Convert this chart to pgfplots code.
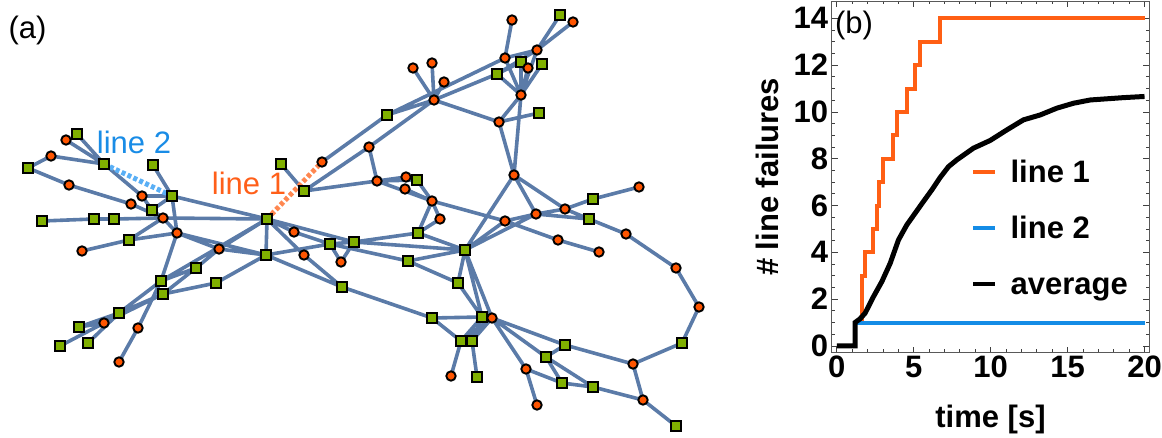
\documentclass[border=0pt]{standalone}
\usepackage{fontspec}
\setmainfont{Liberation Sans}
\usepackage{pgfplots}
\usepackage{pgfplotstable}
\pgfplotsset{compat=1.18}

\definecolor{edgec}{RGB}{62,100,153}
\definecolor{sqfill}{RGB}{128,176,0}
\definecolor{cifill}{RGB}{255,85,0}
\definecolor{lineone}{RGB}{255,95,25}
\definecolor{lineonedash}{RGB}{255,135,80}
\definecolor{linetwo}{RGB}{25,140,230}
\definecolor{linetwodash}{RGB}{90,175,245}
\definecolor{plotorange}{RGB}{255,95,20}
\definecolor{plotblue}{RGB}{20,140,230}
\newcommand{\bigrm}{\fontsize{31}{36}\selectfont}
\newcommand{\bigbf}{\fontsize{31}{36}\selectfont\bfseries}

% squares (green nodes), pixel coordinates
\pgfplotstableread{
x y
77 134
28 168
104 164
153 165
172 196
152 210
42 221
94 219
114 219
129 240
196 268
161 281
163 294
216 283
119 313
79 327
60 346
88 343
267 219
281 164
304 191
266 255
330 244
354 242
342 287
387 115
417 180
418 233
465 250
408 261
458 283
560 15
521 62
542 64
497 74
539 113
593 199
589 219
682 343
676 426
593 387
562 383
546 357
565 345
432 318
482 317
461 341
472 341
477 377
}\squares

% circles (orange nodes)
\pgfplotstableread{
x y
66 140
51 156
69 185
142 196
131 204
163 218
177 233
82 251
219 249
104 323
138 328
119 362
322 162
294 232
304 255
341 262
369 147
377 181
406 177
405 189
432 201
440 219
413 68
432 63
444 82
434 100
512 20
573 22
537 50
505 58
528 68
521 95
499 122
514 175
505 221
536 214
565 209
639 187
626 234
558 240
599 252
676 268
699 307
633 364
643 400
526 369
537 405
492 318
451 376
}\circles

% edges as segment pairs separated by nan
\pgfplotstableread{
x y
66 140
104 164
nan nan
77 134
104 164
nan nan
51 156
28 168
nan nan
51 156
104 164
nan nan
28 168
69 185
nan nan
69 185
131 204
nan nan
104 164
142 196
nan nan
153 165
172 196
nan nan
142 196
172 196
nan nan
142 196
152 210
nan nan
152 210
172 196
nan nan
131 204
163 218
nan nan
152 210
163 218
nan nan
172 196
267 219
nan nan
172 196
177 233
nan nan
42 221
94 219
nan nan
94 219
114 219
nan nan
114 219
163 218
nan nan
163 218
267 219
nan nan
163 218
177 233
nan nan
163 218
129 240
nan nan
129 240
177 233
nan nan
82 251
129 240
nan nan
177 233
219 249
nan nan
219 249
266 255
nan nan
177 233
266 255
nan nan
219 249
267 219
nan nan
219 249
196 268
nan nan
196 268
163 294
nan nan
267 219
161 281
nan nan
196 268
161 281
nan nan
163 294
216 283
nan nan
216 283
266 255
nan nan
177 233
161 281
nan nan
161 281
138 328
nan nan
138 328
119 362
nan nan
161 281
119 313
nan nan
163 294
119 313
nan nan
163 294
104 323
nan nan
104 323
79 327
nan nan
104 323
60 346
nan nan
119 313
88 343
nan nan
79 327
119 313
nan nan
281 164
304 191
nan nan
304 191
369 147
nan nan
369 147
434 100
nan nan
304 191
377 181
nan nan
322 162
387 115
nan nan
387 115
434 100
nan nan
387 115
505 58
nan nan
434 100
497 74
nan nan
413 68
434 100
nan nan
432 63
434 100
nan nan
444 82
434 100
nan nan
434 100
499 122
nan nan
499 122
521 95
nan nan
499 122
539 113
nan nan
499 122
514 175
nan nan
521 95
514 175
nan nan
521 95
497 74
nan nan
521 95
505 58
nan nan
521 95
521 62
nan nan
521 95
528 68
nan nan
521 95
537 50
nan nan
521 95
542 64
nan nan
512 20
505 58
nan nan
560 15
537 50
nan nan
573 22
537 50
nan nan
505 58
537 50
nan nan
497 74
521 62
nan nan
497 74
537 50
nan nan
369 147
377 181
nan nan
377 181
406 177
nan nan
377 181
417 180
nan nan
377 181
432 201
nan nan
406 177
417 180
nan nan
417 180
432 201
nan nan
405 189
432 201
nan nan
432 201
440 219
nan nan
432 201
418 233
nan nan
440 219
418 233
nan nan
432 201
505 221
nan nan
418 233
465 250
nan nan
267 219
266 255
nan nan
267 219
294 232
nan nan
294 232
330 244
nan nan
267 219
354 242
nan nan
267 219
304 255
nan nan
304 255
342 287
nan nan
266 255
330 244
nan nan
266 255
342 287
nan nan
330 244
341 262
nan nan
354 242
341 262
nan nan
330 244
354 242
nan nan
354 242
465 250
nan nan
354 242
418 233
nan nan
330 244
408 261
nan nan
408 261
465 250
nan nan
408 261
458 283
nan nan
465 250
458 283
nan nan
342 287
432 318
nan nan
432 318
482 317
nan nan
432 318
461 341
nan nan
482 317
461 341
nan nan
482 317
472 341
nan nan
492 318
461 341
nan nan
492 318
472 341
nan nan
461 341
451 376
nan nan
472 341
477 377
nan nan
465 250
482 317
nan nan
465 250
492 318
nan nan
458 283
482 317
nan nan
492 318
565 345
nan nan
492 318
546 357
nan nan
492 318
526 369
nan nan
546 357
565 345
nan nan
546 357
562 383
nan nan
546 357
593 387
nan nan
562 383
593 387
nan nan
526 369
562 383
nan nan
526 369
537 405
nan nan
593 387
643 400
nan nan
565 345
633 364
nan nan
633 364
682 343
nan nan
633 364
643 400
nan nan
643 400
676 426
nan nan
682 343
699 307
nan nan
699 307
676 268
nan nan
676 268
626 234
nan nan
626 234
589 219
nan nan
589 219
565 209
nan nan
589 219
536 214
nan nan
565 209
593 199
nan nan
593 199
639 187
nan nan
536 214
565 209
nan nan
505 221
536 214
nan nan
505 221
558 240
nan nan
558 240
599 252
nan nan
514 175
536 214
nan nan
514 175
565 209
nan nan
514 175
465 250
nan nan
465 250
505 221
nan nan
465 250
536 214
}\edges

\begin{document}
\begin{tikzpicture}
\useasboundingbox (0,0) rectangle (1162pt,438pt);
% ---------------- panel (a): network ----------------
\begin{axis}[at={(0pt,0pt)}, anchor=south west, scale only axis,
  width=740pt, height=438pt, xmin=0, xmax=740, ymin=0, ymax=438,
  y dir=reverse, hide axis, clip=false]
\addplot[edgec, opacity=0.85, line width=3.6pt, unbounded coords=jump] table {\edges};
\addplot[lineonedash, line width=5pt, dash pattern=on 4pt off 2.5pt] coordinates {(267,219) (322,162)};
\addplot[linetwodash, line width=5pt, dash pattern=on 4pt off 2.5pt] coordinates {(104,164) (172,196)};
\addplot[only marks, mark=square*, mark size=5pt,
  mark options={fill=sqfill, draw=black, line width=1.9pt}] table {\squares};
\addplot[only marks, mark=*, mark size=4.7pt,
  mark options={fill=cifill, draw=black, line width=1.9pt}] table {\circles};
\node[font=\bigrm, anchor=base, text=lineone] at (axis cs:249,195) {line 1};
\node[font=\bigrm, anchor=base, text=linetwo] at (axis cs:134,154) {line 2};
\node[font=\bigrm, anchor=center] at (axis cs:27.5,30) {(a)};
\end{axis}
% ---------------- panel (b): line failures ----------------
\begin{axis}[at={(831.7pt,85.3pt)}, anchor=south west, scale only axis,
  width=317.6pt, height=351.7pt,
  xmin=-0.33, xmax=20.31, ymin=-0.29, ymax=14.74,
  xtick={0,5,10,15,20}, ytick={0,2,4,6,8,10,12,14},
  minor x tick num=4, minor y tick num=3,
  tick align=inside, major tick length=6pt, minor tick length=3.5pt,
  every tick/.style={black!75, line width=0.8pt},
  axis line style={black!65, line width=0.9pt},
  tick label style={font=\bigbf},
  /pgf/number format/assume math mode=true,
  xlabel={time [s]}, ylabel={\# line failures},
  label style={font=\bigbf},
  xlabel style={at={(axis description cs:0.5,-0.213)}, anchor=base},
  ylabel style={at={(axis description cs:-0.166,0.5)}, anchor=base},
  legend style={draw=none, fill=none, at={(axis cs:8.73,8.02)}, anchor=north west,
    inner sep=0pt, outer sep=0pt, column sep=11pt, row sep=28pt, font=\bigbf},
  legend cell align=left,
  legend image code/.code={\draw[#1, line width=4.5pt] (0pt,0pt) -- (22pt,0pt);},
]
\addplot[plotorange, line width=4pt, const plot] coordinates {
(0,0) (1.19,1) (1.63,3) (1.84,4) (2.38,5) (2.60,6) (2.77,7) (3.03,8) (3.68,9)
(3.90,10) (4.55,11) (5.09,12) (5.42,13) (6.72,14) (20,14)};
\addlegendentry{\vphantom{lg}line 1}
\addplot[plotblue, line width=4pt] coordinates {(0,0) (1.19,0) (1.19,1) (20,1)};
\addlegendentry{\vphantom{lg}line 2}
\addplot[black, line width=5pt] coordinates {
(0,0) (1.19,0) (1.19,1.0) (1.5,1.15) (1.84,1.4) (2.38,2.1) (2.93,2.75) (3.47,3.53)
(4.01,4.53) (4.55,5.17) (5.09,5.67) (5.63,6.17) (6.18,6.67) (6.72,7.2) (7.26,7.66)
(7.8,7.95) (8.88,8.45) (9.97,8.78) (11.05,9.23) (12.13,9.66) (13.22,9.87) (14.3,10.16)
(15.38,10.37) (16.47,10.51) (17.55,10.56) (18.63,10.61) (20,10.66)};
\addlegendentry{\vphantom{lg}average}
\node[font=\bigrm, anchor=center] at (axis cs:1.12,13.68) {(b)};
\end{axis}
\end{tikzpicture}
\end{document}
